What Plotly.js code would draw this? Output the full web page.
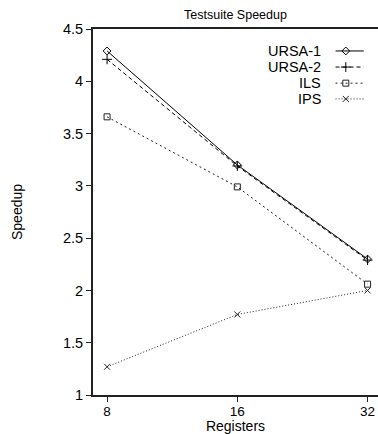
<!DOCTYPE html>
<html>
<head>
<meta charset="utf-8">
<script src="https://cdn.plot.ly/plotly-3.0.1.min.js"></script>
<style>html,body{margin:0;padding:0;background:#fff;}#chart{width:378px;height:434px;}</style>
</head>
<body>
<div id="chart"></div>
<script>
const registers = [8, 16, 32];
const ursa1 = [4.29, 3.20, 2.30];
const ursa2 = [4.21, 3.19, 2.29];
const ils = [3.66, 2.99, 2.06];
const ips = [1.27, 1.77, 2.00];
const seriesNames = ['URSA-1', 'URSA-2', 'ILS', 'IPS'];
const yTicks = [1, 1.5, 2, 2.5, 3, 3.5, 4, 4.5];
const yTickText = ['1', '1.5', '2', '2.5', '3', '3.5', '4', '4.5'];

const styles = [
  {dash: 'solid', symbol: 'diamond-open', size: 6, color: '#000'},
  {dash: '4px,3px', symbol: 'cross-thin-open', size: 7, color: '#000'},
  {dash: '2px,3px', symbol: 'square-open', size: 6, color: '#222'},
  {dash: '1px,2px', symbol: 'x-thin-open', size: 6, color: '#222'}
];
const values = [ursa1, ursa2, ils, ips];

const font = 'Liberation Sans, Arial, Helvetica, sans-serif';
const traces = [];
values.forEach((v, i) => {
  traces.push({
    x: registers, y: v, name: seriesNames[i], type: 'scatter', mode: 'lines+markers',
    line: {color: styles[i].color, width: 1, dash: styles[i].dash},
    marker: {symbol: styles[i].symbol, size: styles[i].size, color: styles[i].color, line: {width: 1, color: styles[i].color}},
    showlegend: false
  });
});

// legend samples in an overlay axis (paper-like 0..1)
const legendY = [0.940, 0.896, 0.852, 0.809];
const lx0 = 0.851, lx1 = 0.95, lxm = 0.887;
const annotations = [];
seriesNames.forEach((n, i) => {
  traces.push({
    x: [lx0, lx1], y: [legendY[i], legendY[i]], xaxis: 'x2', yaxis: 'y2', mode: 'lines',
    line: {color: styles[i].color, width: 1, dash: styles[i].dash}, showlegend: false, hoverinfo: 'skip'
  });
  traces.push({
    x: [lxm], y: [legendY[i]], xaxis: 'x2', yaxis: 'y2', mode: 'markers',
    marker: {symbol: styles[i].symbol, size: styles[i].size, color: styles[i].color, line: {width: 1, color: styles[i].color}},
    showlegend: false, hoverinfo: 'skip'
  });
  annotations.push({
    xref: 'paper', yref: 'paper', x: 0.803, y: legendY[i], xanchor: 'right', yanchor: 'middle',
    text: n, showarrow: false, font: {family: font, size: 14.5, color: '#000'},
    borderpad: 0
  });
});

const log2 = Math.log10(2);
const layout = {
  width: 378, height: 434,
  margin: {l: 93, r: 0, t: 29, b: 39},
  paper_bgcolor: '#fff', plot_bgcolor: '#fff',
  showlegend: false,
  font: {family: font, size: 14, color: '#000'},
  title: {text: 'Testsuite Speedup', font: {family: font, size: 12.5, color: '#000'}, x: 0.623, xanchor: 'center', y: 0.967, yanchor: 'middle'},
  xaxis: {
    type: 'log', range: [2.892 * log2, 5.08 * log2],
    tickvals: registers, ticktext: registers.map(String),
    ticks: 'outside', ticklen: 5, tickwidth: 1, tickcolor: '#222',
    ticklabelstandoff: -2,
    showline: true, linewidth: 2, linecolor: '#222', mirror: true,
    showgrid: false, zeroline: false,
    tickfont: {family: font, size: 13.5, color: '#000'},
    title: {text: 'Registers', font: {family: font, size: 14, color: '#000'}, standoff: 2}
  },
  yaxis: {
    range: [1, 4.5], tickvals: yTicks, ticktext: yTickText,
    ticks: 'outside', ticklen: 5, tickwidth: 1, tickcolor: '#222',
    showline: true, linewidth: 2, linecolor: '#222',
    showgrid: false, zeroline: false,
    tickfont: {family: font, size: 14.5, color: '#000'},
    title: {text: 'Speedup', font: {family: font, size: 14, color: '#000'}, standoff: 37}
  },
  xaxis2: {overlaying: 'x', range: [0, 1], visible: false, fixedrange: true},
  yaxis2: {overlaying: 'y', range: [0, 1], visible: false, fixedrange: true},
  annotations: annotations
};

Plotly.newPlot('chart', traces, layout, {displayModeBar: false, staticPlot: true});
</script>
</body>
</html>
